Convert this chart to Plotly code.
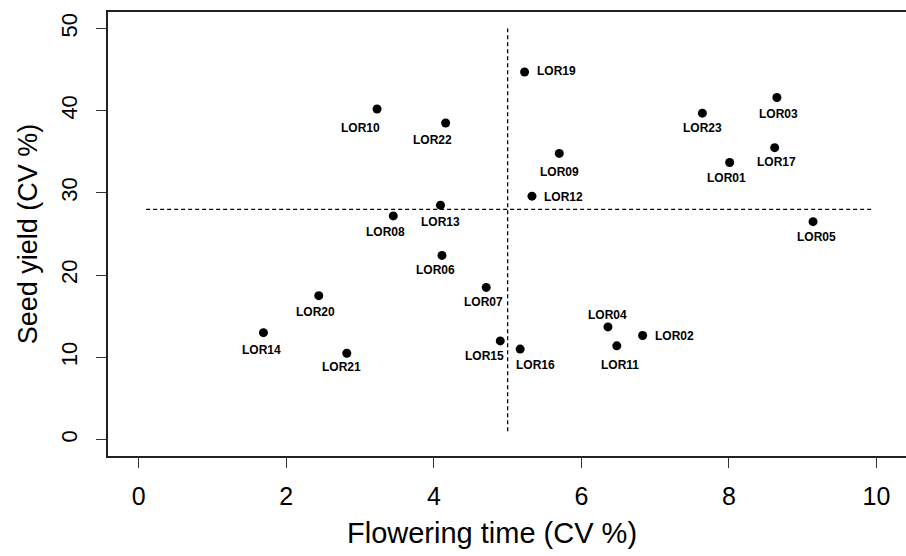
import plotly.graph_objects as go

# ---- data ----
lines = ["LOR01", "LOR02", "LOR03", "LOR04", "LOR05", "LOR06", "LOR07", "LOR08",
         "LOR09", "LOR10", "LOR11", "LOR12", "LOR13", "LOR14", "LOR15", "LOR16",
         "LOR17", "LOR19", "LOR20", "LOR21", "LOR22", "LOR23"]
flowering_cv = [8.01, 6.83, 8.65, 6.36, 9.14, 4.11, 4.71, 3.45,
                5.70, 3.23, 6.48, 5.33, 4.09, 1.69, 4.90, 5.17,
                8.62, 5.23, 2.44, 2.82, 4.16, 7.64]
seed_yield_cv = [33.7, 12.65, 41.6, 13.7, 26.5, 22.4, 18.5, 27.2,
                 34.8, 40.2, 11.4, 29.6, 28.5, 13.0, 12.0, 11.0,
                 35.5, 44.7, 17.5, 10.5, 38.5, 39.7]
x_ticks = [0, 2, 4, 6, 8, 10]
y_ticks = [0, 10, 20, 30, 40, 50]
mean_flowering = 5.0
mean_yield = 28.0
vline_span = [1.0, 50.0]
hline_span = [0.1, 9.93]

# ---- label placement (style: pixel offsets, "r" = right of the point) ----
label_style = {
    "LOR01": (-3, 16), "LOR02": ("r", 0), "LOR03": (2, 16), "LOR04": (0, -12),
    "LOR05": (3, 15), "LOR06": (-6, 15), "LOR07": (-3, 15), "LOR08": (-8, 16),
    "LOR09": (0, 19), "LOR10": (-17, 19), "LOR11": (3, 19), "LOR12": ("r", 1),
    "LOR13": (0, 17), "LOR14": (-2, 17), "LOR15": (-16, 15), "LOR16": (15, 16),
    "LOR17": (2, 14), "LOR19": ("r", -1), "LOR20": (-3, 16), "LOR21": (-5, 14),
    "LOR22": (-13, 17), "LOR23": (0, 15),
}

FONT = "Liberation Sans, Arial, sans-serif"
W, H = 906, 556
ML, MR, MT, MB = 108, 0, 12, 100
label_font = dict(size=12, color="black", family=FONT, weight="bold")

fig = go.Figure()
fig.add_trace(go.Scatter(
    x=flowering_cv, y=seed_yield_cv, mode="markers",
    marker=dict(color="black", size=9), hoverinfo="text", text=lines,
    showlegend=False,
))

annotations = []
for name, xv, yv in zip(lines, flowering_cv, seed_yield_cv):
    dx, dy = label_style[name]
    if dx == "r":
        annotations.append(dict(x=xv, y=yv, text=name, showarrow=False,
                                xanchor="left", yanchor="middle", xshift=10,
                                yshift=-dy, font=label_font))
    else:
        annotations.append(dict(x=xv, y=yv, text=name, showarrow=False,
                                xanchor="center", yanchor="middle", xshift=dx,
                                yshift=-dy, font=label_font))

# x-axis title placed as in the reference (slightly left of plot centre)
annotations.append(dict(x=(492 - ML) / (W - MR - ML), y=-(533 - (H - MB)) / (H - MB - MT),
                        xref="paper", yref="paper", text="Flowering time (CV %)",
                        showarrow=False, xanchor="center", yanchor="middle",
                        font=dict(size=29, color="black", family=FONT)))

fig.add_shape(type="line", x0=mean_flowering, x1=mean_flowering, y0=vline_span[0], y1=vline_span[1],
              line=dict(color="black", width=1.3, dash="4px,3px"))
fig.add_shape(type="line", x0=hline_span[0], x1=hline_span[1], y0=mean_yield, y1=mean_yield,
              line=dict(color="black", width=1.3, dash="4px,3px"))

fig.update_layout(
    width=W, height=H,
    margin=dict(l=ML, r=MR, t=MT, b=MB, autoexpand=False),
    paper_bgcolor="white", plot_bgcolor="white",
    annotations=annotations,
    font=dict(family=FONT, color="black"),
    xaxis=dict(range=[-0.417, 10.40], tickvals=x_ticks, ticktext=[str(v) for v in x_ticks],
               showgrid=False, zeroline=False, showline=True, mirror=True,
               linecolor="#222", linewidth=1.6, ticks="outside", ticklen=10,
               tickcolor="#333", tickwidth=1.3, tickfont=dict(size=25, color="black"),
               ticklabelstandoff=7, automargin=False),
    yaxis=dict(range=[-2, 52], tickvals=y_ticks, ticktext=[str(v) for v in y_ticks],
               showgrid=False, zeroline=False, showline=True, mirror=False,
               linecolor="#222", linewidth=1.6, ticks="outside", ticklen=10,
               tickcolor="#333", tickwidth=1.3, tickangle=-90,
               tickfont=dict(size=22, color="black"), ticklabelstandoff=10,
               automargin=False,
               title=dict(text="Seed yield (CV %)", font=dict(size=27, color="black"),
                          standoff=12)),
)

fig.write_html("out.html", config={"displayModeBar": False},
               post_script="document.body.style.margin='0';document.body.style.overflow='hidden';")
